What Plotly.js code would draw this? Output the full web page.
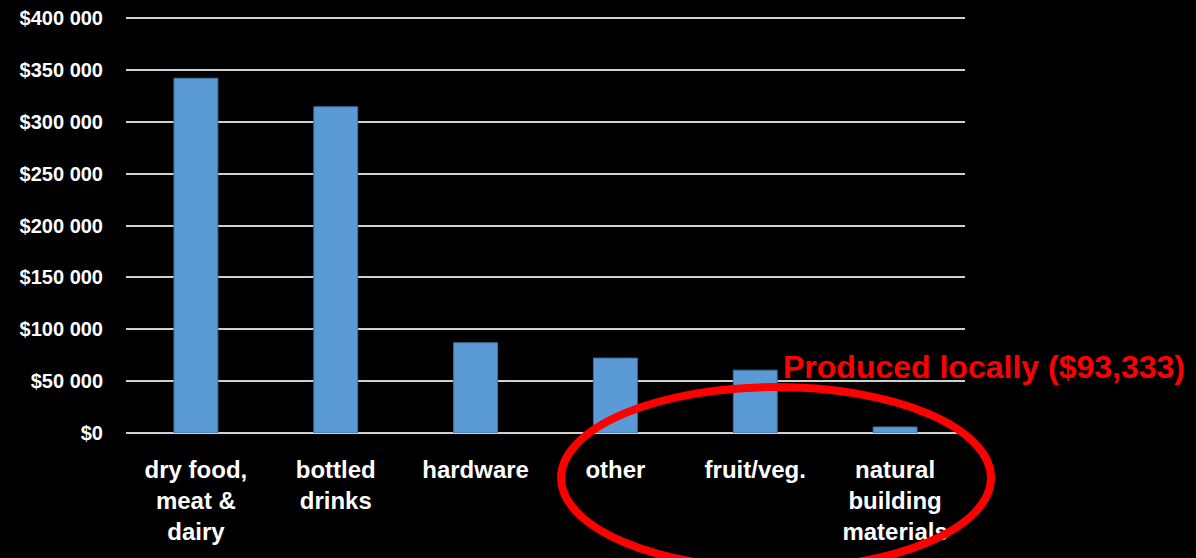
<!DOCTYPE html>
<html>
<head>
<meta charset="utf-8">
<script src="https://cdn.plot.ly/plotly-3.0.1.min.js"></script>
<style>
html,body{margin:0;padding:0;background:#000;}
#chart{width:1196px;height:558px;}
</style>
</head>
<body>
<div id="chart"></div>
<script>
// Data
var categories = ["dry food,<br>meat &<br>dairy", "bottled<br>drinks", "hardware", "other", "fruit/veg.", "natural<br>building<br>materials"];
var values = [342000, 314500, 87000, 72200, 60600, 5800];
var yTickVals = [0, 50000, 100000, 150000, 200000, 250000, 300000, 350000, 400000];
var yTickText = ["$0", "$50 000", "$100 000", "$150 000", "$200 000", "$250 000", "$300 000", "$350 000", "$400 000"];
var noteText = "Produced locally ($93,333)";

var font = "'Liberation Sans', Arial, sans-serif";

var trace = {
  type: "bar",
  x: categories,
  y: values,
  marker: {color: "#5B9BD5", line: {color: "#41719C", width: 1}},
  hoverinfo: "none"
};

var layout = {
  width: 1196,
  height: 558,
  paper_bgcolor: "#000000",
  plot_bgcolor: "#000000",
  margin: {l: 126, r: 231, t: 16, b: 125, pad: 0},
  bargap: 0.686,
  showlegend: false,
  font: {family: font, color: "#FFFFFF"},
  xaxis: {
    type: "category",
    showgrid: false,
    showline: false,
    zeroline: false,
    ticks: "",
    ticklabelstandoff: 20,
    tickfont: {family: font, size: 24, color: "#FFFFFF", weight: "bold"},
    fixedrange: true
  },
  yaxis: {
    range: [0, 402000],
    tickvals: yTickVals,
    ticktext: yTickText,
    showgrid: true,
    gridcolor: "#D0D0D0",
    gridwidth: 2,
    zeroline: true,
    zerolinecolor: "#D0D0D0",
    zerolinewidth: 2,
    showline: false,
    ticks: "",
    ticklabelstandoff: 22,
    tickfont: {family: font, size: 20, color: "#FFFFFF", weight: "bold"},
    fixedrange: true
  },
  shapes: [{
    type: "circle",
    xref: "paper", yref: "paper",
    x0: 0.5185, x1: 1.031,
    y0: -0.3257, y1: 0.1103,
    line: {color: "#FF0000", width: 8},
    fillcolor: "rgba(0,0,0,0)",
    layer: "above"
  }],
  annotations: [{
    xref: "paper", yref: "paper",
    x: 0.781, y: 0.158,
    xanchor: "left", yanchor: "middle",
    text: noteText,
    showarrow: false,
    font: {family: font, size: 32, color: "#FF0000", weight: "bold"}
  }]
};

Plotly.newPlot("chart", [trace], layout, {displayModeBar: false, staticPlot: true});
</script>
</body>
</html>
